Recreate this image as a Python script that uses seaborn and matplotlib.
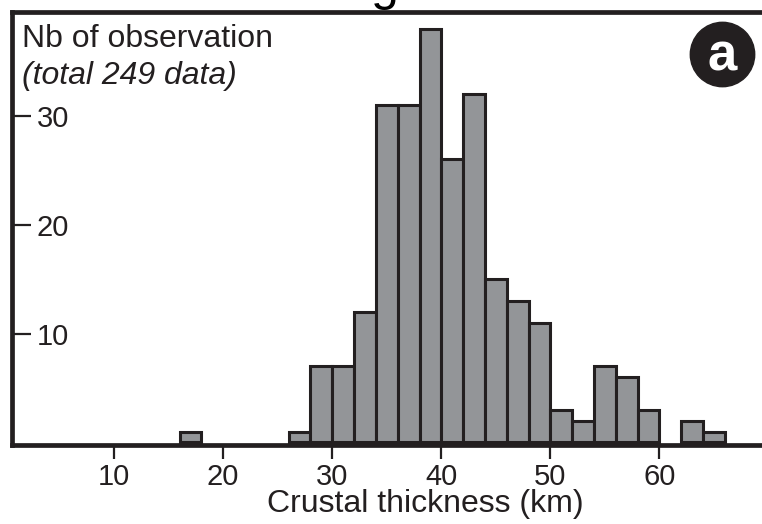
import numpy as np
import pandas as pd
import matplotlib
matplotlib.use("Agg")
import matplotlib.pyplot as plt
import seaborn as sns

# crustal thickness histogram, 2 km bins (lower edge of each bin)
bin_left = [16, 26, 28, 30, 32, 34, 36, 38, 40, 42, 44, 46, 48, 50, 52, 54, 56, 58, 62, 64]
counts = [1, 1, 7, 7, 12, 31, 31, 38, 26, 32, 15, 13, 11, 3, 2, 7, 6, 3, 2, 1]
bin_edges = list(range(16, 68, 2))
x_ticks = [10, 20, 30, 40, 50, 60]
y_ticks = [10, 20, 30]

dark = "#231f20"
bar_grey = "#939598"

sns.set_style("white")
plt.rcParams["font.family"] = ["Liberation Sans", "DejaVu Sans"]

df = pd.DataFrame({"thickness": np.array(bin_left) + 1, "n": counts})

fig = plt.figure(figsize=(7.62, 5.24), dpi=100)
ax = fig.add_axes([12 / 762, 79 / 524, 750 / 762, 433 / 524])

sns.histplot(data=df, x="thickness", weights="n", bins=bin_edges, ax=ax,
             color=bar_grey, alpha=1, edgecolor=dark, linewidth=2.2)
# empty bins would leave a thin edge line above the axis
for p in ax.patches:
    if p.get_height() == 0:
        p.set_visible(False)

ax.set_xlim(0.64, 69.4)
ax.set_ylim(-0.23, 39.54)

for side in ["left", "bottom", "top"]:
    ax.spines[side].set_linewidth(3.4)
    ax.spines[side].set_color(dark)
    ax.spines[side].set_zorder(5)
ax.spines["right"].set_visible(False)

ax.set_xticks(x_ticks)
ax.set_yticks(y_ticks)
ax.tick_params(axis="x", direction="out", length=10, width=1.6, color=dark,
               labelsize=21, labelcolor=dark, pad=3, bottom=True)
ax.tick_params(axis="y", direction="in", length=14, width=1.6, color=dark,
               labelsize=21, labelcolor=dark, pad=-18, left=True)
for lab in ax.get_yticklabels():
    lab.set_horizontalalignment("left")

ax.set_xlabel("Crustal thickness (km)", fontsize=23, color=dark)
ax.xaxis.set_label_coords(0.551, -0.102)
ax.set_ylabel("")

ax.text(0.0133, 0.919, "Nb of observation", transform=ax.transAxes,
        fontsize=23, color=dark, ha="left", va="baseline")
ax.text(0.0133, 0.834, "(total 249 data)", transform=ax.transAxes,
        fontsize=23, color=dark, ha="left", va="baseline", style="italic")

# panel marker "a"
cx, cy = (722 - 12) / 750, (445 - 54) / 433
ax.scatter([cx], [cy], s=2150, color=dark, transform=ax.transAxes,
           clip_on=False, zorder=6)
ax.text(cx, cy - 0.005, "a", transform=ax.transAxes, fontsize=38,
        fontweight="bold", color="white", ha="center", va="center", zorder=7)

# title cut off at the top edge of the picture
fig.text(0.505, 1.0, "g", fontsize=36, color="black", ha="center", va="baseline")

fig.savefig("out.png", dpi=100)
